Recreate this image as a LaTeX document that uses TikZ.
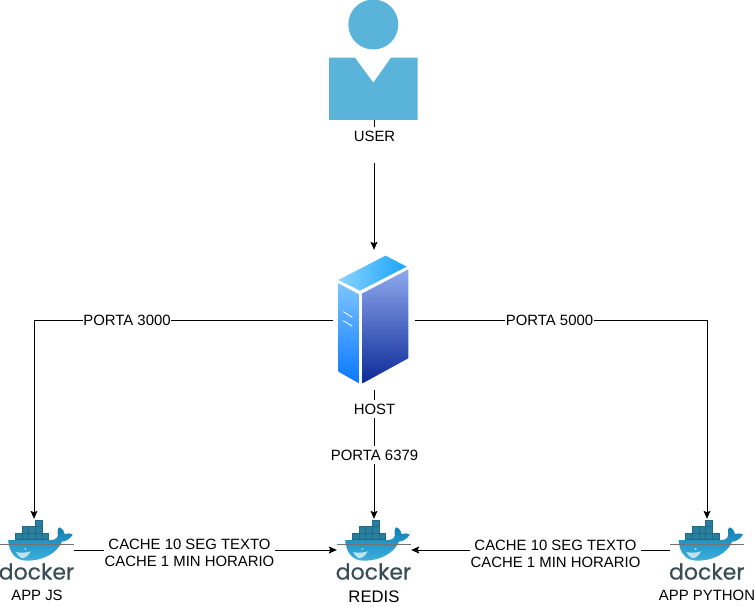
\documentclass[tikz,border=0pt]{standalone}
\usepackage{fontspec}
\setmainfont{Liberation Sans}
\newfontfamily\dockerfont[FakeBold=0.4]{Poppins}
\usetikzlibrary{arrows.meta,positioning,calc}
\definecolor{userblue}{HTML}{5AB4DA}
\definecolor{crate}{HTML}{2A7F9F}
\definecolor{crateline}{HTML}{1F6A85}
\definecolor{whaletop}{HTML}{1080B4}
\definecolor{whalelow}{HTML}{3FB0DC}
\definecolor{dockerink}{HTML}{394D54}
\definecolor{roofleft}{HTML}{8CD3FF}
\definecolor{roofright}{HTML}{18A4F8}
\definecolor{sidetop}{HTML}{7CC4FF}
\definecolor{sidelow}{HTML}{0A78FF}
\definecolor{fronttop}{HTML}{8FA9EE}
\definecolor{frontlow}{HTML}{0C2A98}
\tikzset{
  dockerlogo/.pic={
    \begin{scope}[x=0.3333pt,y=-0.3333pt,shift={(-110,-120)}]
      \foreach \cx/\cy in {105/30,65/49,85/49,105/49,45/69,65/69,85/69,105/69,125/69}
        \fill[crate,draw=crateline,line width=0.3pt] (\cx,\cy) rectangle ++(20.5,19.5);
      \shade[top color=whaletop,bottom color=whalelow]
        (25,90) -- (152,90) .. controls (168,90) and (176,82) .. (173,68)
        .. controls (171,60) and (174,54) .. (178,52)
        .. controls (188,56) and (193,64) .. (194,72)
        .. controls (202,69) and (212,70) .. (218,73)
        .. controls (212,86) and (198,94) .. (186,95)
        .. controls (170,130) and (130,152) .. (80,152)
        .. controls (46,152) and (27,128) .. (25,90) -- cycle;
      \draw[black!55,line width=0.3pt] (0,101) -- (222,101);
      \fill[white!65!whalelow] (48,126) .. controls (62,130) and (80,128) .. (92,124)
        .. controls (86,138) and (72,146) .. (66,145)
        .. controls (58,142) and (52,134) .. (48,126) -- cycle;
      \fill[white] (76,117) circle (2.6);
    \end{scope}
    \node[font=\dockerfont\fontsize{22}{22}\selectfont,text=dockerink,inner sep=0pt] (logotext) at (-0.2,21.5) {docker};
  }
}
\begin{document}
\begin{tikzpicture}[
  x=1pt,y=-1pt,
  font=\fontsize{14.9}{17.6}\selectfont,
  iconbox/.style={minimum width=74pt,minimum height=64pt,inner sep=0pt},
  lbl/.style={fill=white,inner xsep=0.5pt,inner ysep=4pt,text height=10.5pt,text depth=0pt},
  cachelbl/.style={fill=white,align=center,inner xsep=0.5pt,inner ysep=1pt},
  edge/.style={draw=black,line width=0.8pt},
  arrow/.style={edge,-{Stealth[length=8pt,width=7pt,inset=1.5pt]}}
]
\useasboundingbox (0,0) rectangle (755,607);
% user icon
\fill[userblue] (373.3,24.5) circle (25);
\fill[userblue] (329,57.7) -- (355,57.7) -- (373.3,82.7) -- (391,57.7) -- (417.7,57.7) -- (417.7,120) -- (329,120) -- cycle;
\node[minimum width=89pt,minimum height=120pt,inner sep=0pt] (user) at (374,60) {};
% server
\begin{scope}[x=0.3333pt,y=-0.3333pt,shift={(930,720)}]
  \shade[left color=roofleft,right color=roofright] (85,120) -- (227,47) -- (290,80) -- (150,152) -- cycle;
  \shade[top color=sidetop,bottom color=sidelow] (85,130) -- (147,163) -- (147,430) -- (85,395) -- cycle;
  \shade[top color=fronttop,bottom color=frontlow] (158,160) -- (295,88) -- (295,355) -- (158,430) -- cycle;
  \draw[white,line width=0.8pt] (100,215) -- (127,232) (100,242) -- (127,259);
\end{scope}
\node[minimum width=81pt,minimum height=140pt,inner sep=0pt] (host) at (374,320) {};
% docker containers
\node[iconbox] (appjs) at (36.5,551) {};
\node[iconbox] (redis) at (374,551) {};
\node[iconbox] (apppython) at (707,551) {};
\pic at (36.7,550) {dockerlogo};
\pic at (373.7,550) {dockerlogo};
\pic at (707,550) {dockerlogo};
\coordinate (userout) at (374,163);
\coordinate (jscorner) at (34,320);
\coordinate (pycorner) at (707,320);
% connectors
\draw[edge] (user) -- (374,130);
\draw[arrow] (userout) -- (host.north);
\draw[arrow] (host.west) -- (jscorner) -- (jscorner |- appjs.north);
\draw[arrow] (host.east) -- (pycorner) -- (apppython.north);
\draw[arrow] (host.south) -- (redis.north);
\draw[arrow] (appjs.east |- 0,550) -- (redis.west |- 0,550);
\draw[arrow] (apppython.west |- 0,550) -- (redis.east |- 0,550);
% labels
\node[lbl] (userlabel) at (374.5,136.5) {USER};
\node[lbl] (hostlabel) at (374.5,409) {HOST};
\node[lbl] (porthttpjs) at (127,320) {PORTA 3000};
\node[lbl] (porthttppy) at (549.5,320) {PORTA 5000};
\node[lbl] (portredis) at (374.5,455) {PORTA 6379};
\node[cachelbl] (cachejs) at (189.5,553) {CACHE 10 SEG TEXTO\\CACHE 1 MIN HORARIO};
\node[cachelbl] (cachepy) at (555.5,554) {CACHE 10 SEG TEXTO\\CACHE 1 MIN HORARIO};
\node (jslabel) at (37,595) {APP JS};
\node[font=\fontsize{16.7}{18}\selectfont] (redislabel) at (374,597) {REDIS};
\node (pylabel) at (707,595) {APP PYTHON};
\end{tikzpicture}
\end{document}
